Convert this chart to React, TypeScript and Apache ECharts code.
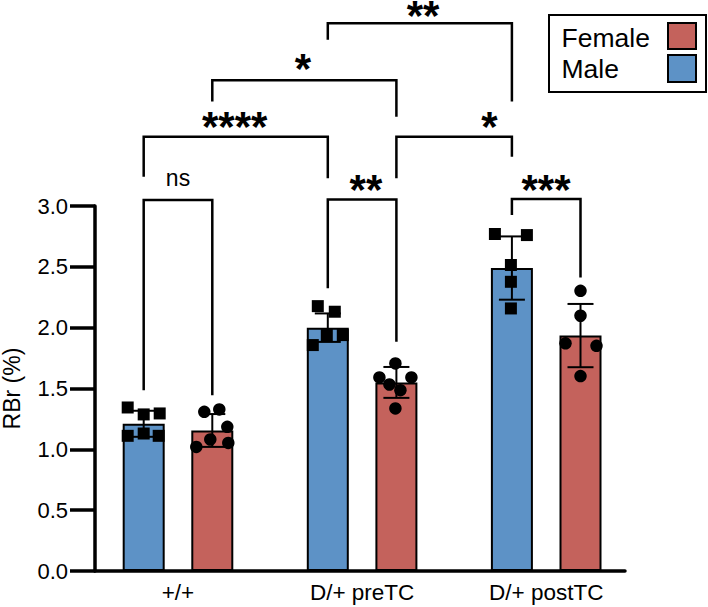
import React, { useEffect, useRef } from 'react';
import * as echarts from 'echarts';

// ---------------- data ----------------
const categories = ['+/+', 'D/+ preTC', 'D/+ postTC'];
const seriesNames = { male: 'Male', female: 'Female' };
const yAxisName = 'RBr (%)';
const yMin = 0;
const yMax = 3.0;
const yStep = 0.5;

const maleMean = [1.21, 2.0, 2.49];
const maleSD = [0.107, 0.117, 0.26];
const femaleMean = [1.155, 1.55, 1.935];
const femaleSD = [0.135, 0.127, 0.26];

const malePoints = [
  [1.344, 1.287, 1.295, 1.111, 1.13, 1.111],
  [2.177, 2.131, 1.939, 1.939, 1.857],
  [2.77, 2.761, 2.515, 2.377, 2.158],
];
const femalePoints = [
  [1.308, 1.328, 1.185, 1.081, 1.02, 1.053],
  [1.706, 1.591, 1.591, 1.533, 1.486, 1.336],
  [2.303, 2.098, 1.871, 1.851, 1.602],
];

// significance brackets: ends reference [group, sex]; heights in axis units
type Sex = 'M' | 'F';
const brackets: {
  from: [number, Sex];
  to: [number, Sex];
  top: number;
  leftEnd: number;
  rightEnd: number;
  label: string;
  labelX: number;
  labelY: number;
}[] = [
  { from: [0, 'M'], to: [0, 'F'], top: 3.049, leftEnd: 1.486, rightEnd: 1.445, label: 'ns', labelX: 0.0, labelY: 3.213 },
  { from: [1, 'M'], to: [1, 'F'], top: 3.053, leftEnd: 2.323, rightEnd: 1.884, label: '**', labelX: 1.021, labelY: 3.185 },
  { from: [2, 'M'], to: [2, 'F'], top: 3.058, leftEnd: 2.926, rightEnd: 2.413, label: '***', labelX: 1.999, labelY: 3.185 },
  { from: [0, 'M'], to: [1, 'M'], top: 3.57, leftEnd: 3.241, rightEnd: 3.228, label: '****', labelX: 0.308, labelY: 3.707 },
  { from: [1, 'F'], to: [2, 'M'], top: 3.57, leftEnd: 3.228, rightEnd: 3.405, label: '*', labelX: 1.691, labelY: 3.707 },
  { from: [0, 'F'], to: [1, 'F'], top: 4.034, leftEnd: 3.858, rightEnd: 3.734, label: '*', labelX: 0.679, labelY: 4.18 },
  { from: [1, 'M'], to: [2, 'M'], top: 4.503, leftEnd: 4.366, rightEnd: 3.858, label: '**', labelX: 1.331, labelY: 4.62 },
];

// ---------------- layout / style ----------------
const W = 708;
const H = 607;
const GRID = { left: 95, right: 83, top: 206, bottom: 36 };
const X_MIN = -0.4508;
const X_MAX = 2.428;
const PX_PER_UNIT = (W - GRID.left - GRID.right) / (X_MAX - X_MIN);
const SEX_OFFSET_PX = 34.3;
const SEX_OFFSET = SEX_OFFSET_PX / PX_PER_UNIT;
const BAR_W = 42;
const CAP_W = 26;
const SYMBOL = 12;
const BLUE = '#5D92C6';
const RED = '#C4625C';
const FONT = '"Liberation Sans", Arial, Helvetica, sans-serif';
const STAR_DY = 6.5;
const NS_DY = -2;

// horizontal jitter of the dots inside each bar (px)
const maleJitter = [
  [-16, 0, 16, -16, 0, 15],
  [-10, 7, -1, 15, -15],
  [-17, 15, -1, -1, -1],
];
const femaleJitter = [
  [-8, 7, 15, -2, -16, 16],
  [-1, -17, 15, -7, 4, -1],
  [0, 0, -15, 16, 0],
];

const barX = (g: number, s: Sex) => g + (s === 'M' ? -SEX_OFFSET : SEX_OFFSET);

export default function App() {
  const ref = useRef<HTMLDivElement>(null);

  useEffect(() => {
    if (!ref.current) return;
    const chart = echarts.init(ref.current, undefined, { renderer: 'svg' });

    const maleBars = maleMean.map((v, i) => [barX(i, 'M'), v]);
    const femaleBars = femaleMean.map((v, i) => [barX(i, 'F'), v]);
    const errData = [
      ...maleMean.map((v, i) => [barX(i, 'M'), v, maleSD[i]]),
      ...femaleMean.map((v, i) => [barX(i, 'F'), v, femaleSD[i]]),
    ];
    const maleDots: number[][] = [];
    malePoints.forEach((arr, g) =>
      arr.forEach((v, k) => maleDots.push([barX(g, 'M') + maleJitter[g][k] / PX_PER_UNIT, v]))
    );
    const femaleDots: number[][] = [];
    femalePoints.forEach((arr, g) =>
      arr.forEach((v, k) => femaleDots.push([barX(g, 'F') + femaleJitter[g][k] / PX_PER_UNIT, v]))
    );
    const bracketData = brackets.map((b, i) => [
      barX(b.from[0], b.from[1]),
      barX(b.to[0], b.to[1]),
      b.top,
      b.leftEnd,
      b.rightEnd,
      b.labelX,
      b.labelY,
      i,
    ]);

    const option: any = {
      animation: false,
      textStyle: { fontFamily: FONT },
      grid: { ...GRID, containLabel: false, outerBoundsMode: 'none' },
      xAxis: {
        type: 'value',
        min: X_MIN,
        max: X_MAX,
        axisLine: { show: true, onZero: false, lineStyle: { color: '#000', width: 3.5 } },
        axisTick: { show: false },
        splitLine: { show: false },
        axisLabel: {
          customValues: [0, 1, 2],
          formatter: (v: number) => categories[Math.round(v)] ?? '',
          color: '#000',
          fontSize: 22.5,
          fontFamily: FONT,
          margin: 10,
        },
      },
      yAxis: {
        type: 'value',
        min: yMin,
        max: yMax,
        interval: yStep,
        name: yAxisName,
        nameLocation: 'middle',
        nameGap: 72,
        nameTextStyle: { color: '#000', fontSize: 23, fontFamily: FONT },
        axisLine: { show: true, onZero: false, lineStyle: { color: '#000', width: 3.5 } },
        axisTick: { show: true, length: 25, lineStyle: { color: '#000', width: 3.5 } },
        splitLine: { show: false },
        axisLabel: {
          color: '#000',
          fontSize: 22,
          fontFamily: FONT,
          margin: 27,
          formatter: (v: number) => v.toFixed(1),
        },
      },
      series: [
        {
          name: seriesNames.male,
          type: 'bar',
          data: maleBars,
          barWidth: BAR_W,
          barGap: '-100%',
          itemStyle: { color: BLUE, borderColor: '#000', borderWidth: 2 },
          z: 2,
        },
        {
          name: seriesNames.female,
          type: 'bar',
          data: femaleBars,
          barWidth: BAR_W,
          barGap: '-100%',
          itemStyle: { color: RED, borderColor: '#000', borderWidth: 2 },
          z: 2,
        },
        {
          type: 'custom',
          name: 'sd',
          data: errData,
          encode: { x: 0, y: 1 },
          z: 3,
          clip: false,
          renderItem: (_p: any, api: any) => {
            const x = api.value(0);
            const m = api.value(1);
            const s = api.value(2);
            const t = api.coord([x, m + s]);
            const b = api.coord([x, m - s]);
            const st = { stroke: '#000', lineWidth: 2 };
            return {
              type: 'group',
              children: [
                { type: 'line', shape: { x1: t[0], y1: t[1], x2: b[0], y2: b[1] }, style: st },
                { type: 'line', shape: { x1: t[0] - CAP_W / 2, y1: t[1], x2: t[0] + CAP_W / 2, y2: t[1] }, style: st },
                { type: 'line', shape: { x1: b[0] - CAP_W / 2, y1: b[1], x2: b[0] + CAP_W / 2, y2: b[1] }, style: st },
              ],
            };
          },
        },
        {
          name: seriesNames.male + ' points',
          type: 'scatter',
          data: maleDots,
          symbol: 'rect',
          symbolSize: SYMBOL,
          itemStyle: { color: '#000', opacity: 1 },
          z: 4,
        },
        {
          name: seriesNames.female + ' points',
          type: 'scatter',
          data: femaleDots,
          symbol: 'circle',
          symbolSize: SYMBOL + 0.5,
          itemStyle: { color: '#000', opacity: 1 },
          z: 4,
        },
        {
          type: 'custom',
          name: 'brackets',
          data: bracketData,
          encode: { x: 0, y: 2 },
          z: 5,
          clip: false,
          renderItem: (_p: any, api: any) => {
            const x1 = api.value(0);
            const x2 = api.value(1);
            const top = api.value(2);
            const lb = api.value(3);
            const rb = api.value(4);
            const lx = api.value(5);
            const ly = api.value(6);
            const idx = api.value(7);
            const label = brackets[idx].label;
            const p1 = api.coord([x1, lb]);
            const p2 = api.coord([x1, top]);
            const p3 = api.coord([x2, top]);
            const p4 = api.coord([x2, rb]);
            const lp = api.coord([lx, ly]);
            const isNs = label === 'ns';
            return {
              type: 'group',
              children: [
                {
                  type: 'polyline',
                  shape: { points: [p1, p2, p3, p4] },
                  style: { stroke: '#000', lineWidth: 2.5, fill: 'none', lineJoin: 'miter' },
                },
                {
                  type: 'text',
                  x: lp[0],
                  y: lp[1] + (isNs ? NS_DY : STAR_DY),
                  style: {
                    text: label,
                    fontSize: isNs ? 23 : 42,
                    fontWeight: isNs ? 'normal' : 'bold',
                    fontFamily: FONT,
                    fill: '#000',
                    align: 'center',
                    verticalAlign: 'middle',
                  },
                },
              ],
            };
          },
        },
      ],
      graphic: [
        {
          type: 'group',
          x: 549,
          y: 15,
          children: [
            { type: 'rect', shape: { x: 0, y: 0, width: 157, height: 77 }, style: { fill: '#fff', stroke: '#000', lineWidth: 2 } },
            { type: 'text', x: 12.5, y: 23, style: { text: seriesNames.female, fontSize: 26.5, fontFamily: FONT, fill: '#000', verticalAlign: 'middle' } },
            { type: 'text', x: 12.5, y: 54, style: { text: seriesNames.male, fontSize: 26.5, fontFamily: FONT, fill: '#000', verticalAlign: 'middle' } },
            { type: 'rect', shape: { x: 119, y: 8, width: 28, height: 26 }, style: { fill: RED, stroke: '#000', lineWidth: 2 } },
            { type: 'rect', shape: { x: 119, y: 40, width: 28, height: 27 }, style: { fill: BLUE, stroke: '#000', lineWidth: 2 } },
          ],
        },
      ],
    };

    chart.setOption(option);
    return () => chart.dispose();
  }, []);

  return (
    <div
      ref={ref}
      style={{ position: 'absolute', left: 0, top: 0, width: W, height: H, background: '#fff' }}
    />
  );
}
